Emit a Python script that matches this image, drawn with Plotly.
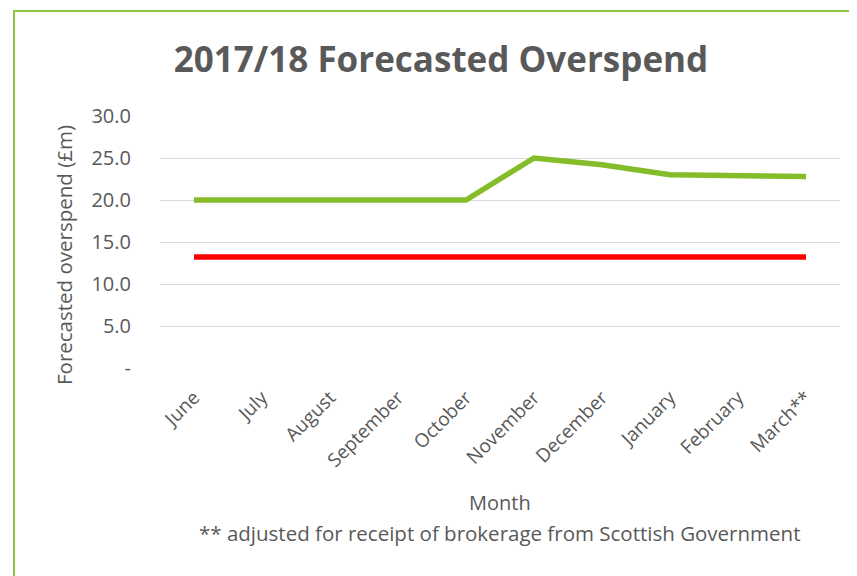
import plotly.graph_objects as go

months = ["June", "July", "August", "September", "October", "November",
          "December", "January", "February", "March**"]
forecast = [20.0, 20.0, 20.0, 20.0, 20.0, 25.0, 24.2, 23.0, 22.9, 22.8]
baseline = [13.2] * 10
ytick_vals = [0, 5, 10, 15, 20, 25, 30]
ytick_text = ["-", "5.0", "10.0", "15.0", "20.0", "25.0", "30.0"]

OFF = 8  # page body margin
W, H = 857 - OFF, 576 - OFF
# plot area in page pixels: x 160..840, y 116..368
L, R = 160 - OFF, 857 - 840
T, B = 116 - OFF, 576 - 368
pw, ph = W - L - R, H - T - B

def px2x(px):
    return (px - OFF - L) / pw

def py2y(py):
    return (H - B - (py - OFF)) / ph

font = "Open Sans"
grey = "#595959"

fig = go.Figure()
fig.add_trace(go.Scatter(x=months, y=baseline, mode="lines",
                         line=dict(color="#FF0000", width=5.5), showlegend=False))
fig.add_trace(go.Scatter(x=months, y=forecast, mode="lines",
                         line=dict(color="#84BC2A", width=5.5), showlegend=False))

fig.update_layout(
    width=W, height=H,
    margin=dict(l=L, r=R, t=T, b=B),
    paper_bgcolor="white", plot_bgcolor="white",
    font=dict(family=font, color=grey, size=20),
    title=dict(text="<b>2017/18 Forecasted Overspend</b>", x=(441 - OFF) / W, xanchor="center",
               y=1 - (60 - OFF) / H, yanchor="middle",
               font=dict(family=font, size=35, color=grey)),
    xaxis=dict(range=[-0.5, 9.5], showgrid=False, showline=False, zeroline=False, tickangle=-45,
               tickfont=dict(size=19, color=grey), ticks="outside", ticklen=10,
               tickcolor="rgba(0,0,0,0)"),
    yaxis=dict(range=[0, 30], tickvals=ytick_vals, ticktext=ytick_text,
               showgrid=True, gridcolor="#D9D9D9", gridwidth=1.3, zeroline=False,
               showline=False, ticks="outside", ticklen=24, tickcolor="rgba(0,0,0,0)",
               tickfont=dict(size=20, color=grey)),
    shapes=[dict(type="rect", xref="paper", yref="paper",
                 x0=px2x(14), x1=px2x(870), y0=py2y(590), y1=py2y(11),
                 line=dict(color="#8CC63F", width=2), fillcolor="rgba(0,0,0,0)",
                 layer="below")],
    annotations=[
        dict(text="Forecasted overspend (£m)", xref="paper", yref="paper",
             x=px2x(64), y=py2y(255), textangle=-90, showarrow=False,
             font=dict(size=20.5, color=grey), xanchor="center", yanchor="middle"),
        dict(text="Month", xref="paper", yref="paper", x=px2x(500), y=py2y(502),
             showarrow=False, font=dict(size=20, color=grey), xanchor="center", yanchor="middle"),
        dict(text="** adjusted for receipt of brokerage from Scottish Government",
             xref="paper", yref="paper", x=px2x(499), y=py2y(533), showarrow=False,
             font=dict(size=20.5, color=grey), xanchor="center", yanchor="middle"),
    ],
)

fig.write_html("out.html")
